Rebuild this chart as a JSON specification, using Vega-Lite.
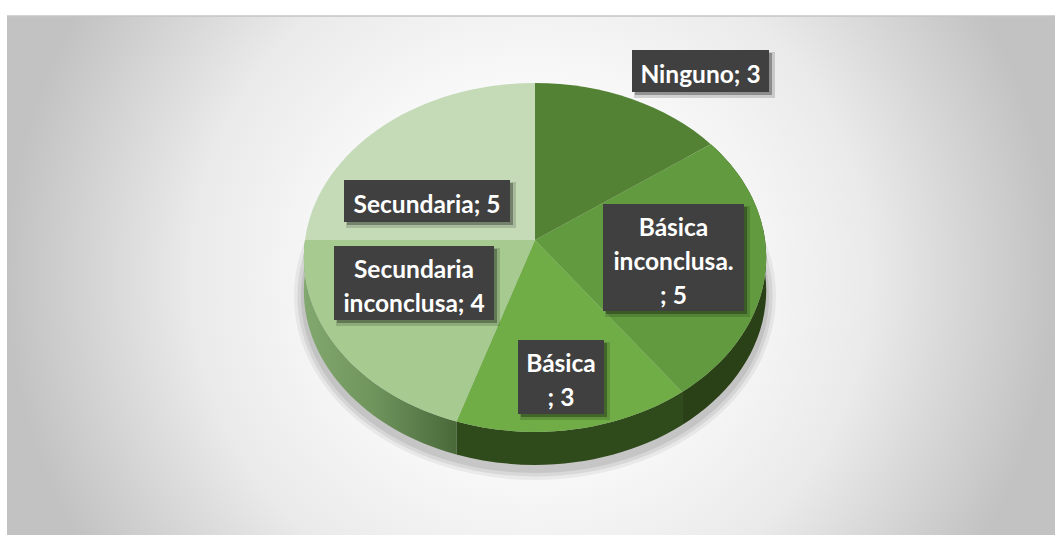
{
"$schema":"https://vega.github.io/schema/vega-lite/v6.json",
"width":1055,"height":535,"padding":0,"autosize":{"type":"none"},
"background":"white",
"config":{"view":{"stroke":null},"axis":{"disable":true}},
"datasets":{"slices":[
{"name":"Ninguno","value":3,"label":"Ninguno; 3"},
{"name":"Básica inconclusa.","value":5,"label":"Básica\ninconclusa.\n; 5"},
{"name":"Básica","value":3,"label":"Básica\n; 3"},
{"name":"Secundaria inconclusa","value":4,"label":"Secundaria\ninconclusa; 4"},
{"name":"Secundaria","value":5,"label":"Secundaria; 5"}
],"one":[{"k":1}]},
"data":{"name":"slices"},
"layer":[
{"data":{"name":"one"},
 "mark":{"type":"rect","fill":{"gradient":"radial","x1":0.5,"y1":0.5,"x2":0.5,"y2":0.5,"r1":0,"r2":0.5,"stops":[{"offset":0,"color":"#ffffff"},{"offset":0.32,"color":"#fbfbfb"},{"offset":0.65,"color":"#eaeaea"},{"offset":1,"color":"#c2c2c2"}]}},
 "encoding":{"x":{"datum":7,"type":"quantitative","scale":{"domain":[0,1055],"nice":false}},"x2":{"datum":1055},"y":{"datum":16,"type":"quantitative","scale":{"domain":[535,0],"nice":false}},"y2":{"datum":535}}},
{"data":{"name":"one"},
 "mark":{"type":"rule","stroke":"#c4c4c4","strokeWidth":1.5},
 "encoding":{"x":{"datum":7,"type":"quantitative","scale":{"domain":[0,1055],"nice":false}},"x2":{"datum":1055},"y":{"datum":16,"type":"quantitative","scale":{"domain":[535,0],"nice":false}}}},
{"data":{"name":"one"},
 "mark":{"type":"point","filled":true,"size":4,"shape":"M-231,0A231,174,0,1,1,231,0A231,174,0,1,1,-231,0Z","fill":"#000000","opacity":0.05,"stroke":"#000000","strokeWidth":20},
 "encoding":{"x":{"datum":535,"type":"quantitative","scale":{"domain":[0,1055],"nice":false}},"y":{"datum":296,"type":"quantitative","scale":{"domain":[535,0],"nice":false}}}},
{"data":{"name":"one"},
 "mark":{"type":"point","filled":true,"size":4,"shape":"M-231,0A231,174,0,1,1,231,0A231,174,0,1,1,-231,0Z","fill":"#000000","opacity":0.07,"stroke":"#000000","strokeWidth":13},
 "encoding":{"x":{"datum":535,"type":"quantitative","scale":{"domain":[0,1055],"nice":false}},"y":{"datum":296,"type":"quantitative","scale":{"domain":[535,0],"nice":false}}}},
{"data":{"name":"one"},
 "mark":{"type":"point","filled":true,"size":4,"shape":"M-231,0A231,174,0,1,1,231,0A231,174,0,1,1,-231,0Z","fill":"#000000","opacity":0.08,"stroke":"#000000","strokeWidth":6},
 "encoding":{"x":{"datum":535,"type":"quantitative","scale":{"domain":[0,1055],"nice":false}},"y":{"datum":296,"type":"quantitative","scale":{"domain":[535,0],"nice":false}}}},
{"transform":[
 {"window":[{"op":"sum","field":"value","as":"cum"}]},
 {"joinaggregate":[{"op":"sum","field":"value","as":"total"}]},
 {"calculate":"2*PI*(datum.cum-datum.value)/datum.total","as":"t0"},
 {"calculate":"2*PI*datum.cum/datum.total","as":"t1"},
 {"calculate":"230*sin(datum.t0)/(1+0.1*cos(datum.t0))","as":"x0"},
 {"calculate":"-172.7*cos(datum.t0)/(1+0.1*cos(datum.t0))","as":"y0"},
 {"calculate":"230*sin(datum.t1)/(1+0.1*cos(datum.t1))","as":"x1"},
 {"calculate":"-172.7*cos(datum.t1)/(1+0.1*cos(datum.t1))","as":"y1"},
 {"calculate":"'M'+datum.x0+','+datum.y0+'A231.2,174.4,0,0,1,'+datum.x1+','+datum.y1+'L'+datum.x1+','+(datum.y1+33)+'A231.2,174.4,0,0,0,'+datum.x0+','+(datum.y0+33)+'Z'","as":"rimPath"},
 {"calculate":"'M0,0L'+datum.x0+','+datum.y0+'A231.2,174.4,0,0,1,'+datum.x1+','+datum.y1+'Z'","as":"topPath"}
 ],
 "layer":[
 {"transform":[{"filter":"datum.name==='Básica inconclusa.' || datum.name==='Básica'"}],
  "mark":{"type":"point","filled":true,"size":4,"opacity":1,"stroke":null},
  "encoding":{"x":{"datum":535,"type":"quantitative","scale":{"domain":[0,1055],"nice":false}},"y":{"datum":240,"type":"quantitative","scale":{"domain":[535,0],"nice":false}},"shape":{"field":"rimPath","type":"nominal","scale":null,"legend":null},
   "color":{"field":"name","type":"nominal","legend":null,"scale":{"domain":["Básica inconclusa.","Básica"],"range":["#2a4017","#2f4a1b"]}}}},
 {"transform":[{"filter":"datum.name==='Secundaria inconclusa'"}],
  "mark":{"type":"point","filled":true,"size":4,"opacity":1,"stroke":null,"fill":{"gradient":"linear","x1":0,"y1":0,"x2":1,"y2":0,"stops":[{"offset":0,"color":"#82a870"},{"offset":0.45,"color":"#6f955d"},{"offset":1,"color":"#4a693a"}]}},
  "encoding":{"x":{"datum":535,"type":"quantitative","scale":{"domain":[0,1055],"nice":false}},"y":{"datum":240,"type":"quantitative","scale":{"domain":[535,0],"nice":false}},"shape":{"field":"rimPath","type":"nominal","scale":null,"legend":null}}},
 {"mark":{"type":"point","filled":true,"size":4,"opacity":1,"stroke":null},
  "encoding":{"x":{"datum":535,"type":"quantitative","scale":{"domain":[0,1055],"nice":false}},"y":{"datum":240,"type":"quantitative","scale":{"domain":[535,0],"nice":false}},"shape":{"field":"topPath","type":"nominal","scale":null,"legend":null},
   "fill":{"field":"name","type":"nominal","legend":null,"scale":{"domain":["Ninguno","Básica inconclusa.","Básica","Secundaria inconclusa","Secundaria"],"range":["#548235","#629a3f","#70ad47","#a6ca8f","#c5dbb8"]}}}}
 ]},
{"transform":[
 {"calculate":"{'Ninguno':632,'Básica inconclusa.':603,'Básica':518,'Secundaria inconclusa':334,'Secundaria':344}[datum.name]","as":"bx0"},
 {"calculate":"{'Ninguno':769,'Básica inconclusa.':744,'Básica':604,'Secundaria inconclusa':494,'Secundaria':510}[datum.name]","as":"bx1"},
 {"calculate":"{'Ninguno':50,'Básica inconclusa.':204,'Básica':340,'Secundaria inconclusa':246,'Secundaria':180}[datum.name]","as":"by0"},
 {"calculate":"{'Ninguno':92,'Básica inconclusa.':311,'Básica':414,'Secundaria inconclusa':320,'Secundaria':222}[datum.name]","as":"by1"},
 {"calculate":"datum.bx0+2","as":"s2x0"},{"calculate":"datum.bx1+6","as":"s2x1"},
 {"calculate":"datum.by0+2","as":"s2y0"},{"calculate":"datum.by1+6","as":"s2y1"},
 {"calculate":"datum.bx0+3","as":"sx0"},{"calculate":"datum.bx1+3","as":"sx1"},
 {"calculate":"datum.by0+3","as":"sy0"},{"calculate":"datum.by1+3","as":"sy1"},
 {"calculate":"(datum.bx0+datum.bx1)/2","as":"cx"},
 {"calculate":"(datum.by0+datum.by1)/2+5-(split(datum.label,'\\n').length-1)*17","as":"cy"}
 ],
 "layer":[
 {"mark":{"type":"rect","fill":"#000000","opacity":0.15},
  "encoding":{"x":{"field":"s2x0","type":"quantitative","scale":{"domain":[0,1055],"nice":false}},"x2":{"field":"s2x1"},"y":{"field":"s2y0","type":"quantitative","scale":{"domain":[535,0],"nice":false}},"y2":{"field":"s2y1"}}},
 {"mark":{"type":"rect","fill":"#000000","opacity":0.3},
  "encoding":{"x":{"field":"sx0","type":"quantitative","scale":{"domain":[0,1055],"nice":false}},"x2":{"field":"sx1"},"y":{"field":"sy0","type":"quantitative","scale":{"domain":[535,0],"nice":false}},"y2":{"field":"sy1"}}},
 {"mark":{"type":"rect","fill":"#404040"},
  "encoding":{"x":{"field":"bx0","type":"quantitative","scale":{"domain":[0,1055],"nice":false}},"x2":{"field":"bx1"},"y":{"field":"by0","type":"quantitative","scale":{"domain":[535,0],"nice":false}},"y2":{"field":"by1"}}},
 {"mark":{"type":"text","font":"Lato","fontWeight":"bold","fontSize":24.5,"fill":"#ffffff","lineBreak":"\n","lineHeight":34,"align":"center","baseline":"middle"},
  "encoding":{"x":{"field":"cx","type":"quantitative","scale":{"domain":[0,1055],"nice":false}},"y":{"field":"cy","type":"quantitative","scale":{"domain":[535,0],"nice":false}},"text":{"field":"label","type":"nominal"}}}
 ]}
]
}
